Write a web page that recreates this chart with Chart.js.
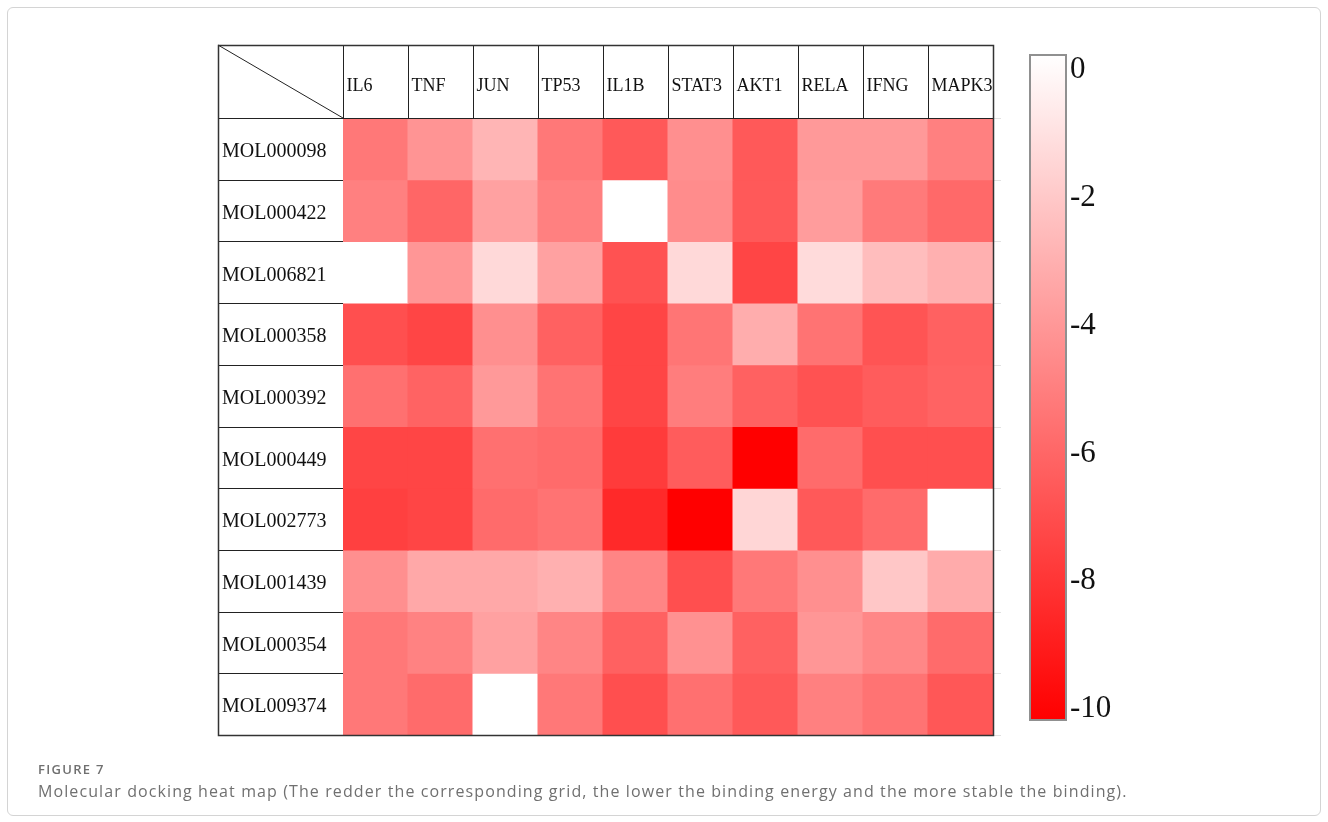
<!DOCTYPE html>
<html>
<head>
<meta charset="utf-8">
<script src="https://cdn.jsdelivr.net/npm/chart.js@4.4.1/dist/chart.umd.min.js"></script>
<style>
  body { margin: 0; background: #fff; }
  #frame {
    position: absolute; left: 7px; top: 7px; width: 1312px; height: 807px;
    border: 1px solid #d4d4d4; border-radius: 6px;
  }
  #wrap { position: absolute; left: 0; top: 0; width: 1328px; height: 822px; }
  .cap-num {
    position: absolute; left: 38px; top: 760px;
    font: 600 13px "Open Sans", sans-serif; color: #707070; letter-spacing: 1.3px;
  }
  .cap-text {
    position: absolute; left: 38px; top: 780px;
    font: 16px "Open Sans", sans-serif; color: #707070; letter-spacing: 1.1px;
  }
</style>
</head>
<body>
<div id="frame"></div>
<div id="wrap"><canvas id="chart" width="1328" height="822"></canvas></div>
<div class="cap-num">FIGURE 7</div>
<div class="cap-text">Molecular docking heat map (The redder the corresponding grid, the lower the binding energy and the more stable the binding).</div>

<script>
// binding energies, one array per molecule, columns follow `targets`
const targets = ["IL6", "TNF", "JUN", "TP53", "IL1B", "STAT3", "AKT1", "RELA", "IFNG", "MAPK3"];
const molecules = ["MOL000098", "MOL000422", "MOL006821", "MOL000358", "MOL000392",
                   "MOL000449", "MOL002773", "MOL001439", "MOL000354", "MOL009374"];

const mol000098 = [-5.3, -4.2, -2.9, -5.3, -6.5, -4.4, -6.5, -4.0, -4.0, -5.0];
const mol000422 = [-5.0, -6.0, -3.7, -5.0, 0, -4.5, -6.5, -3.9, -5.2, -5.9];
const mol006821 = [0, -4.1, -1.5, -3.7, -6.8, -1.5, -7.3, -1.4, -2.6, -3.1];
const mol000358 = [-6.9, -7.3, -4.4, -6.2, -7.3, -5.4, -3.2, -5.5, -6.7, -6.2];
const mol000392 = [-5.6, -6.1, -4.0, -5.5, -7.3, -5.1, -6.2, -6.8, -6.4, -6.1];
const mol000449 = [-7.3, -7.3, -5.6, -5.8, -7.7, -6.4, -10, -5.8, -6.9, -6.9];
const mol002773 = [-7.5, -7.3, -5.8, -5.5, -8.4, -10, -1.6, -6.5, -5.8, 0];
const mol001439 = [-4.4, -3.4, -3.4, -3.1, -4.8, -6.9, -5.3, -4.4, -2.2, -3.3];
const mol000354 = [-5.3, -4.9, -3.7, -4.8, -6.2, -4.3, -6.2, -4.1, -4.7, -5.8];
const mol009374 = [-5.3, -5.8, 0, -5.3, -6.9, -5.6, -6.5, -5.0, -5.5, -6.6];

const energies = [mol000098, mol000422, mol006821, mol000358, mol000392,
                  mol000449, mol002773, mol001439, mol000354, mol009374];

const colorTicks = [0, -2, -4, -6, -8, -10];
const minEnergy = -10;

function energyColor(v) {
  const t = Math.min(1, Math.max(0, v / minEnergy));
  const g = Math.round(255 * (1 - t));
  return `rgb(255,${g},${g})`;
}

const serif = '"Liberation Serif", "DejaVu Serif", serif';

// one floating-bar dataset per row
const datasets = energies.map((row, i) => ({
  label: molecules[i],
  data: row.map(() => [i, i + 1]),
  backgroundColor: row.map(energyColor),
  borderWidth: 0,
  inflateAmount: 0.5,
  grouped: false,
  barPercentage: 1,
  categoryPercentage: 1,
}));

// table frame: header row, label column, diagonal
const tableLines = {
  id: "tableLines",
  afterDraw(chart) {
    const { ctx, chartArea: a, scales } = chart;
    const top = a.top - scales.x.height;
    const left = scales.y.left - 4;
    const cw = (a.right - a.left) / targets.length;
    ctx.save();
    ctx.strokeStyle = "#222";
    ctx.lineWidth = 1;
    ctx.beginPath();
    for (let j = 0; j < targets.length; j++) {
      const x = Math.round(a.left + j * cw) + 0.5;
      ctx.moveTo(x, top);
      ctx.lineTo(x, a.top);
    }
    for (let i = 1; i < molecules.length; i++) {
      const y = Math.round(scales.y.getPixelForValue(i)) + 0.5;
      ctx.moveTo(left, y);
      ctx.lineTo(a.left, y);
    }
    ctx.moveTo(left, a.top + 0.5);
    ctx.lineTo(a.right, a.top + 0.5);
    ctx.moveTo(left, top);
    ctx.lineTo(a.left, a.top);
    ctx.stroke();

    // faint marks right of the grid
    ctx.strokeStyle = "#e2e2e2";
    ctx.beginPath();
    for (let i = 0; i <= molecules.length; i++) {
      const y = Math.round(scales.y.getPixelForValue(i)) + 0.5;
      ctx.moveTo(a.right, y);
      ctx.lineTo(a.right + 8, y);
    }
    ctx.stroke();

    ctx.strokeStyle = "#333";
    ctx.lineWidth = 1.5;
    ctx.strokeRect(left + 0.5, top + 0.5, a.right - left, a.bottom - top);
    ctx.restore();
  },
};

// colour bar on the right
const colorBar = {
  id: "colorBar",
  afterDraw(chart) {
    const ctx = chart.ctx;
    const x = 1030, w = 36, top = 55, bottom = 720;
    const y0 = 70, step = 63.9; // pixel per unit of energy
    const grad = ctx.createLinearGradient(0, top, 0, bottom);
    grad.addColorStop(0, energyColor(0));
    grad.addColorStop(1, energyColor(minEnergy));
    ctx.save();
    ctx.fillStyle = grad;
    ctx.fillRect(x, top, w, bottom - top);
    ctx.strokeStyle = "#909090";
    ctx.lineWidth = 2;
    ctx.strokeRect(x, top, w, bottom - top);
    ctx.fillStyle = "#111";
    ctx.font = "31px " + serif;
    ctx.textBaseline = "middle";
    ctx.textAlign = "left";
    colorTicks.forEach((v) => {
      ctx.fillText(String(v), x + w + 4, y0 - v * step);
    });
    ctx.restore();
  },
};

new Chart(document.getElementById("chart"), {
  type: "bar",
  data: { labels: targets, datasets },
  plugins: [tableLines, colorBar],
  options: {
    responsive: false,
    animation: false,
    layout: { padding: { left: 222, top: 45, right: 335, bottom: 87 } },
    plugins: { legend: { display: false }, tooltip: { enabled: false } },
    scales: {
      x: {
        position: "top",
        grid: { display: false, drawTicks: false },
        border: { display: false },
        afterFit: (axis) => { axis.height = 73; },
        ticks: {
          autoSkip: false,
          maxRotation: 0,
          align: "start",
          labelOffset: -29,
          padding: 21,
          color: "#111",
          font: { family: serif, size: 18 },
        },
      },
      y: {
        min: 0,
        max: 10,
        reverse: true,
        grid: { display: false, drawTicks: false },
        border: { display: false },
        afterFit: (axis) => { axis.width = 121; },
        afterBuildTicks: (axis) => {
          axis.ticks = molecules.map((m, i) => ({ value: i + 0.5 }));
        },
        ticks: {
          autoSkip: false,
          crossAlign: "far",
          labelOffset: 3,
          color: "#111",
          font: { family: serif, size: 20 },
          callback: (v, i) => molecules[i],
        },
      },
    },
  },
});
</script>
</body>
</html>
